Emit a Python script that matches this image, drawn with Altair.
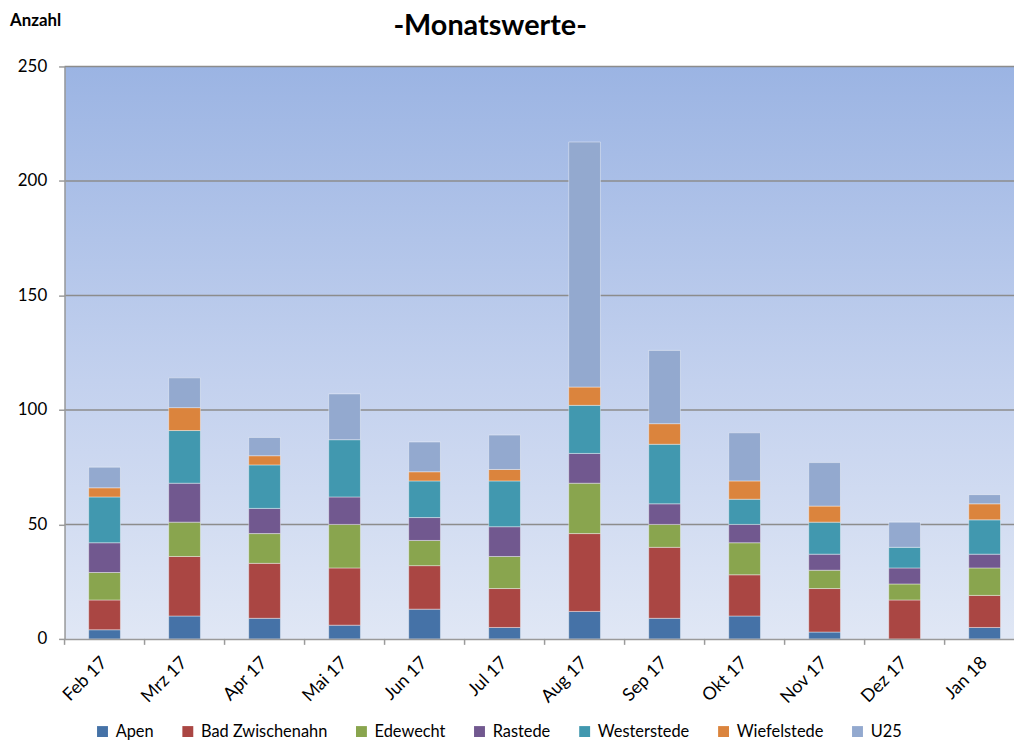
import altair as alt
import pandas as pd

months = ["Feb 17", "Mrz 17", "Apr 17", "Mai 17", "Jun 17", "Jul 17",
          "Aug 17", "Sep 17", "Okt 17", "Nov 17", "Dez 17", "Jan 18"]
series = ["Apen", "Bad Zwischenahn", "Edewecht", "Rastede",
          "Westerstede", "Wiefelstede", "U25"]
colors = ["#4572A7", "#AA4643", "#89A54E", "#71588F",
          "#4198AF", "#DB843D", "#93A9CF"]

apen = [4, 10, 9, 6, 13, 5, 12, 9, 10, 3, 0, 5]
bad_zwischenahn = [13, 26, 24, 25, 19, 17, 34, 31, 18, 19, 17, 14]
edewecht = [12, 15, 13, 19, 11, 14, 22, 10, 14, 8, 7, 12]
rastede = [13, 17, 11, 12, 10, 13, 13, 9, 8, 7, 7, 6]
westerstede = [20, 23, 19, 25, 16, 20, 21, 26, 11, 14, 9, 15]
wiefelstede = [4, 10, 4, 0, 4, 5, 8, 9, 8, 7, 0, 7]
u25 = [9, 13, 8, 20, 13, 15, 107, 32, 21, 19, 11, 4]

y_ticks = [0, 50, 100, 150, 200, 250]

values = [apen, bad_zwischenahn, edewecht, rastede, westerstede, wiefelstede, u25]
rows = []
for si, (name, vals) in enumerate(zip(series, values)):
    for m, v in zip(months, vals):
        if v > 0:
            rows.append({"Monat": m, "Ort": name, "Anzahl": v, "idx": si})
df = pd.DataFrame(rows)

W = 957
H = 577
FONT = "Lato"

xscale = alt.Scale(domain=months, range=[0, 967.7], paddingInner=0, paddingOuter=0)
yscale = alt.Scale(domain=[0, 250], nice=False, zero=True)

xaxis = alt.Axis(title=None, labelAngle=-45, labelAlign="right", labelBaseline="middle",
                 labelFontSize=18, labelFont=FONT, labelColor="black",
                 ticks=False, tickSize=0, labelPadding=21,
                 domainColor="#9A9A9A", domainWidth=1.5, grid=False, zindex=1)
yaxis = alt.Axis(title=None, values=y_ticks, labelFontSize=17, labelFont=FONT,
                 labelColor="black", labelPadding=12, tickSize=6, tickColor="#9A9A9A",
                 tickWidth=1.5, domainColor="#9A9A9A", domainWidth=1.5, grid=False, zindex=1)

bg = alt.Chart(pd.DataFrame({"a": [0]})).mark_rect(
    fill=alt.Gradient(gradient="linear",
                      stops=[alt.GradientStop(color="#9BB4E3", offset=0),
                             alt.GradientStop(color="#C3D1EE", offset=0.55),
                             alt.GradientStop(color="#E0E7F5", offset=1)],
                      x1=0, x2=0, y1=0, y2=1)
).encode(x=alt.value(0), x2=alt.value(W), y=alt.value(0), y2=alt.value(H))

grid = alt.Chart(pd.DataFrame({"v": y_ticks[1:]})).mark_rule(
    color="#8C8C8C", strokeWidth=1.5
).encode(y=alt.Y("v:Q", scale=yscale, axis=yaxis), x=alt.value(0), x2=alt.value(W))

xticks = alt.Chart(pd.DataFrame({"Monat": months})).mark_rule(
    color="#9A9A9A", strokeWidth=1.5
).encode(x=alt.X("Monat:N", sort=months, scale=xscale, axis=xaxis, bandPosition=0),
         y=alt.value(H), y2=alt.value(H + 6))

bars = alt.Chart(df).mark_bar(width=32, stroke="white", strokeWidth=0.8, strokeOpacity=0.5).encode(
    x=alt.X("Monat:N", sort=months, scale=xscale, axis=xaxis),
    y=alt.Y("Anzahl:Q", stack="zero", scale=yscale, axis=yaxis),
    color=alt.Color("Ort:N", scale=alt.Scale(domain=series, range=colors),
                    legend=alt.Legend(title=None, orient="none", legendX=30, legendY=662,
                                      direction="horizontal", columns=7,
                                      symbolType="square", symbolSize=121, symbolStrokeWidth=0,
                                      labelFontSize=16.5, labelFont=FONT, labelColor="black",
                                      columnPadding=26, labelOffset=5)),
    order=alt.Order("idx:Q", sort="ascending"),
)

title = alt.Chart(pd.DataFrame({"t": ["-Monatswerte-"]})).mark_text(
    font=FONT, fontSize=29, fontWeight="bold", align="center", baseline="alphabetic", color="black"
).encode(text="t:N", x=alt.value(429), y=alt.value(-32))

ylabel = alt.Chart(pd.DataFrame({"t": ["Anzahl"]})).mark_text(
    font=FONT, fontSize=17, fontWeight="bold", align="left", baseline="alphabetic", color="black"
).encode(text="t:N", x=alt.value(-55), y=alt.value(-41))

chart = alt.layer(bg, grid, xticks, bars, title, ylabel).properties(
    width=W, height=H,
    padding={"left": 57, "top": 56, "right": 0, "bottom": 103},
    autosize=alt.AutoSizeParams(type="none"),
).configure_view(stroke=None)

chart.save("out.html", embed_options={"renderer": "svg", "actions": False})
